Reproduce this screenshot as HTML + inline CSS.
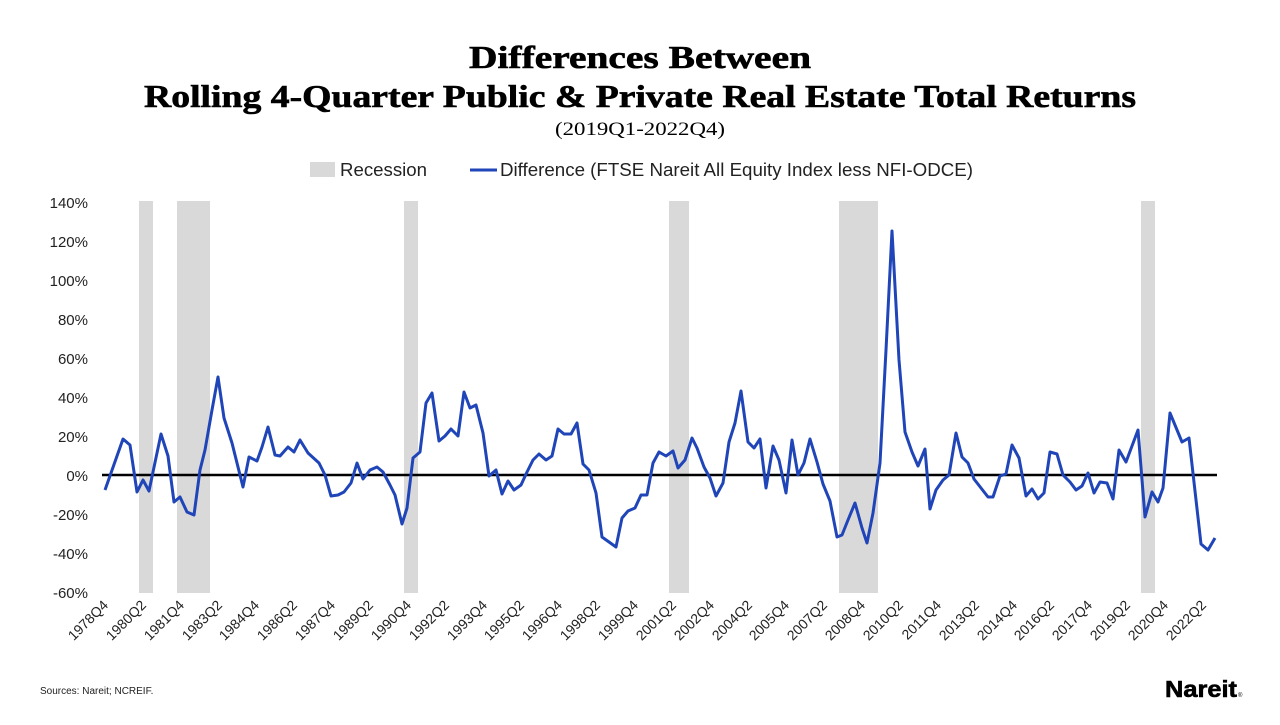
<!DOCTYPE html>
<html><head><meta charset="utf-8"><style>
body{margin:0;width:1280px;height:720px;background:#fff;overflow:hidden}
</style></head><body>
<svg width="1280" height="720" viewBox="0 0 1280 720" xmlns="http://www.w3.org/2000/svg">
<g font-family="Liberation Serif, serif" text-anchor="middle" fill="#000">
<text x="640" y="68" font-size="32" font-weight="bold" textLength="342" lengthAdjust="spacingAndGlyphs" stroke="#000" stroke-width="0.6">Differences Between</text>
<text x="640" y="107" font-size="32" font-weight="bold" textLength="992" lengthAdjust="spacingAndGlyphs" stroke="#000" stroke-width="0.6">Rolling 4-Quarter Public &amp; Private Real Estate Total Returns</text>
<text x="640" y="135" font-size="19" textLength="170" lengthAdjust="spacingAndGlyphs">(2019Q1-2022Q4)</text>
</g>
<g font-family="Liberation Sans, sans-serif" font-size="18" fill="#222">
<rect x="310" y="162" width="25" height="15" fill="#d9d9d9"/>
<text x="340" y="176" textLength="87" lengthAdjust="spacingAndGlyphs">Recession</text>
<line x1="470" y1="170" x2="497" y2="170" stroke="#1f45b8" stroke-width="3"/>
<text x="500" y="176" textLength="473" lengthAdjust="spacingAndGlyphs">Difference (FTSE Nareit All Equity Index less NFI-ODCE)</text>
</g>
<g fill="#d9d9d9">
<rect x="139" y="201" width="14" height="392"/>
<rect x="177" y="201" width="33" height="392"/>
<rect x="404" y="201" width="14" height="392"/>
<rect x="669" y="201" width="20" height="392"/>
<rect x="839" y="201" width="39" height="392"/>
<rect x="1141" y="201" width="14" height="392"/>
</g>
<g font-family="Liberation Sans, sans-serif" font-size="15" fill="#222" text-anchor="end">
<text x="88" y="208">140%</text>
<text x="88" y="247">120%</text>
<text x="88" y="286">100%</text>
<text x="88" y="325">80%</text>
<text x="88" y="364">60%</text>
<text x="88" y="403">40%</text>
<text x="88" y="442">20%</text>
<text x="88" y="481">0%</text>
<text x="88" y="520">-20%</text>
<text x="88" y="559">-40%</text>
<text x="88" y="598">-60%</text>
</g>
<line x1="102" y1="475" x2="1217" y2="475" stroke="#000" stroke-width="2.5"/>
<polyline fill="none" stroke="#1f45b8" stroke-width="3" stroke-linejoin="round" points="105,490 123,439 130,445 137,492 143,480 149,491 161,434 168,456 174,502 180,497 187,512 194,515 200,470 205,450 212,410 218,377 224,418 232,443 243,487 249,457 257,461 262,447 268,427 275,455 280,456 288,447 294,452 300,440 308,453 319,463 325,475 331,496 338,495 344,492 351,483 357,463 363,479 370,470 377,467 383,472 390,485 395,495 402,524 407,508 413,458 420,452 426,403 432,393 439,441 445,436 451,429 458,436 464,392 470,408 476,405 483,433 489,476 496,470 502,494 508,481 514,490 521,485 527,472 533,460 539,454 546,460 552,456 558,429 564,434 571,434 577,423 583,464 589,470 596,493 602,537 616,547 622,518 628,511 635,508 641,495 647,495 653,463 659,452 666,456 673,451 678,468 685,460 692,438 697,448 704,467 710,478 716,496 723,483 729,442 735,423 741,391 748,442 754,448 760,439 766,488 773,446 779,460 786,493 792,440 798,475 804,463 810,439 817,462 823,484 830,501 837,537 842,535 848,520 855,503 862,528 867,543 873,513 880,463 886,350 892,231 899,360 905,432 912,452 918,466 925,449 930,509 936,490 943,480 949,475 956,433 962,457 968,463 974,479 981,488 988,497 993,497 1000,476 1006,474 1012,445 1019,458 1026,496 1032,489 1038,499 1044,493 1050,452 1057,454 1063,475 1070,482 1076,490 1082,486 1088,473 1094,493 1100,482 1107,483 1113,499 1119,450 1126,462 1138,430 1145,517 1152,492 1158,502 1163,488 1170,413 1182,442 1189,438 1201,544 1208,550 1215,538"/>
<g font-family="Liberation Sans, sans-serif" font-size="14" fill="#222" text-anchor="end">
<text transform="translate(109,606) rotate(-45)">1978Q4</text>
<text transform="translate(147,606) rotate(-45)">1980Q2</text>
<text transform="translate(185,606) rotate(-45)">1981Q4</text>
<text transform="translate(223,606) rotate(-45)">1983Q2</text>
<text transform="translate(260,606) rotate(-45)">1984Q4</text>
<text transform="translate(298,606) rotate(-45)">1986Q2</text>
<text transform="translate(336,606) rotate(-45)">1987Q4</text>
<text transform="translate(374,606) rotate(-45)">1989Q2</text>
<text transform="translate(412,606) rotate(-45)">1990Q4</text>
<text transform="translate(450,606) rotate(-45)">1992Q2</text>
<text transform="translate(488,606) rotate(-45)">1993Q4</text>
<text transform="translate(525,606) rotate(-45)">1995Q2</text>
<text transform="translate(563,606) rotate(-45)">1996Q4</text>
<text transform="translate(601,606) rotate(-45)">1998Q2</text>
<text transform="translate(639,606) rotate(-45)">1999Q4</text>
<text transform="translate(677,606) rotate(-45)">2001Q2</text>
<text transform="translate(715,606) rotate(-45)">2002Q4</text>
<text transform="translate(753,606) rotate(-45)">2004Q2</text>
<text transform="translate(790,606) rotate(-45)">2005Q4</text>
<text transform="translate(828,606) rotate(-45)">2007Q2</text>
<text transform="translate(866,606) rotate(-45)">2008Q4</text>
<text transform="translate(904,606) rotate(-45)">2010Q2</text>
<text transform="translate(942,606) rotate(-45)">2011Q4</text>
<text transform="translate(980,606) rotate(-45)">2013Q2</text>
<text transform="translate(1018,606) rotate(-45)">2014Q4</text>
<text transform="translate(1055,606) rotate(-45)">2016Q2</text>
<text transform="translate(1093,606) rotate(-45)">2017Q4</text>
<text transform="translate(1131,606) rotate(-45)">2019Q2</text>
<text transform="translate(1169,606) rotate(-45)">2020Q4</text>
<text transform="translate(1207,606) rotate(-45)">2022Q2</text>
</g>
<text x="40" y="694" font-family="Liberation Sans, sans-serif" font-size="10" fill="#222">Sources: Nareit; NCREIF.</text>
<text x="1165" y="697" font-family="Liberation Sans, sans-serif" font-size="23" font-weight="bold" fill="#000" textLength="72" lengthAdjust="spacingAndGlyphs" stroke="#000" stroke-width="0.6">Nareit</text>
<text x="1238" y="697" font-family="Liberation Sans, sans-serif" font-size="6" fill="#000">®</text>
</svg>
</body></html>
